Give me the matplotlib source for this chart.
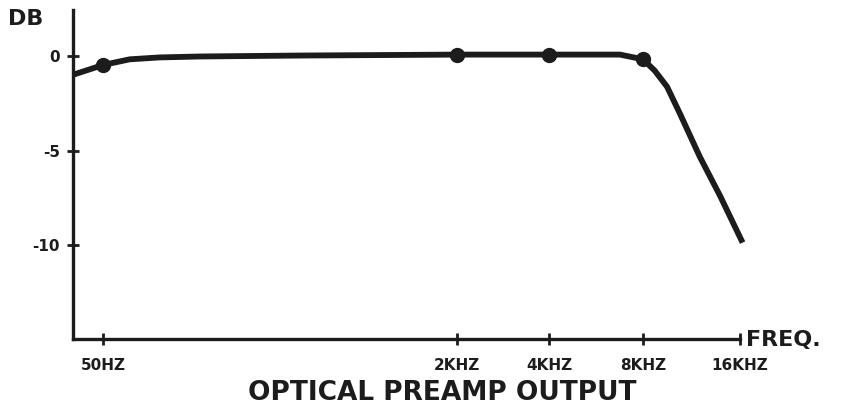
import numpy as np
import matplotlib.pyplot as plt

# response curve (Hz, dB)
freq = [37, 50, 66, 90, 137, 390, 2000, 4000, 6750, 8000, 8700, 9500, 10400, 12000, 13900, 16300]
db = [-0.95, -0.45, -0.15, -0.05, 0.0, 0.05, 0.1, 0.1, 0.1, -0.15, -0.75, -1.6, -3.0, -5.3, -7.4, -9.85]

# measured points marked with dots
dot_freq = [50, 2000, 4000, 8000]
dot_db = [-0.45, 0.1, 0.1, -0.15]

xtick_freq = [50, 2000, 4000, 8000, 16000]
xtick_labels = ["50HZ", "2KHZ", "4KHZ", "8KHZ", "16KHZ"]
ytick_vals = [0, -5, -10]
ytick_labels = ["0", "-5", "-10"]

# the hand drawn frequency axis is not a true log scale:
# piecewise log mapping between the labelled frequencies
anchor_f = np.log2([20, 50, 2000, 4000, 8000, 16000, 32000])
anchor_x = np.array([15, 103, 457, 549, 643, 740, 837], dtype=float)


def fwd(f):
    f = np.maximum(np.asarray(f, dtype=float), 1e-6)
    return np.interp(np.log2(f), anchor_f, anchor_x)


def inv(x):
    return 2.0 ** np.interp(np.asarray(x, dtype=float), anchor_x, anchor_f)


ink = "#1c1c1c"
fig = plt.figure(figsize=(8.56, 4.09), dpi=100)
ax = fig.add_axes([73 / 856, 70 / 409, (740 - 73) / 856, (339 - 10) / 409])

ax.set_xscale("function", functions=(fwd, inv))
ax.set_xlim(float(inv(73)), 16000)
ax.set_ylim(-14.95, 2.46)

ax.plot(freq, db, color=ink, linewidth=4.2, solid_capstyle="butt",
        solid_joinstyle="round", clip_on=False)
ax.plot(dot_freq, dot_db, "o", color=ink, markersize=10, clip_on=False)

for s in ["top", "right"]:
    ax.spines[s].set_visible(False)
for s in ["left", "bottom"]:
    ax.spines[s].set_linewidth(2.4)
    ax.spines[s].set_color(ink)

ax.set_xticks(xtick_freq)
ax.set_xticklabels(xtick_labels)
ax.xaxis.set_minor_locator(plt.NullLocator())
ax.set_yticks(ytick_vals)
ax.set_yticklabels(ytick_labels)

ax.tick_params(axis="x", direction="inout", length=9, width=2, color=ink, pad=9,
               labelsize=11, labelcolor=ink)
ax.tick_params(axis="y", direction="inout", length=9, width=2, color=ink, pad=5,
               labelsize=11, labelcolor=ink)
for lbl in ax.get_xticklabels() + ax.get_yticklabels():
    lbl.set_fontweight("bold")

fig.text(8 / 856, 1 - 19 / 409, "DB", fontsize=16, fontweight="heavy", color=ink,
         ha="left", va="center")
fig.text(746 / 856, 1 - 340 / 409, "FREQ.", fontsize=16, fontweight="heavy", color=ink,
         ha="left", va="center")
fig.text(442 / 856, 1 - 393 / 409, "OPTICAL PREAMP OUTPUT", fontsize=19,
         fontweight="heavy", color=ink, ha="center", va="center")

fig.savefig("out.png", dpi=100)
